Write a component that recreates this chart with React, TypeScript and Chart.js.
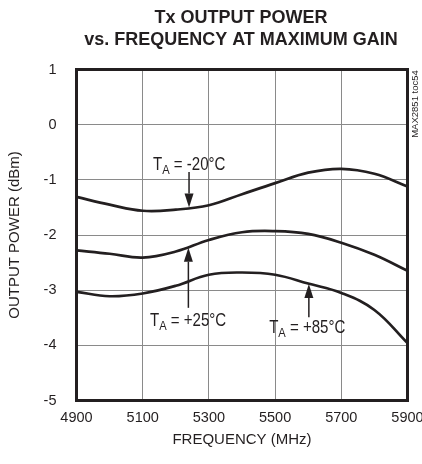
import React, { useEffect, useRef } from "react";
import { Chart, registerables } from "chart.js";

Chart.register(...registerables);

const FONT = '"Liberation Sans", Arial, Helvetica, sans-serif';
const INK = "#231f20";

// Axis ticks
const freqTicks = [4900, 5100, 5300, 5500, 5700, 5900];
const powerTicks = [1, 0, -1, -2, -3, -4, -5];

// T_A = -20°C
const freqM20 = [4900, 5000, 5100, 5200, 5300, 5400, 5500, 5600, 5700, 5800, 5900];
const powM20 = [-1.31, -1.45, -1.56, -1.54, -1.46, -1.26, -1.06, -0.87, -0.8, -0.89, -1.12];

// T_A = +25°C
const freqP25 = [4900, 5000, 5100, 5200, 5300, 5400, 5500, 5600, 5700, 5800, 5900];
const powP25 = [-2.28, -2.34, -2.41, -2.3, -2.09, -1.95, -1.93, -1.98, -2.14, -2.36, -2.65];

// T_A = +85°C
const freqP85 = [4900, 5000, 5100, 5200, 5300, 5400, 5500, 5600, 5700, 5800, 5900];
const powP85 = [-3.03, -3.11, -3.06, -2.92, -2.72, -2.68, -2.72, -2.88, -3.05, -3.36, -3.96];

// Curve labels: [main, subscript, rest]
const labelTexts = [
  ["T", "A", " = -20°C"],
  ["T", "A", " = +25°C"],
  ["T", "A", " = +85°C"],
];
// label anchor (freq, dBm) and arrow (freq, from dBm, to dBm)
const labelAt = [
  [5131, -0.82],
  [5122, -3.65],
  [5482, -3.78],
];
const arrowAt = [
  [5240, -0.86, -1.5],
  [5238, -3.32, -2.23],
  [5602, -3.49, -2.89],
];

const titleLines = ["Tx OUTPUT POWER", "vs. FREQUENCY AT MAXIMUM GAIN"];
const sideNote = "MAX2851 toc54";

function toPoints(xs: number[], ys: number[]) {
  return xs.map((x, i) => ({ x, y: ys[i] }));
}

const decorPlugin = {
  id: "decor",
  beforeDatasetsDraw(chart: any) {
    const { ctx, chartArea } = chart;
    ctx.save();
    ctx.strokeStyle = INK;
    ctx.lineWidth = 3;
    ctx.strokeRect(
      chartArea.left,
      chartArea.top,
      chartArea.right - chartArea.left,
      chartArea.bottom - chartArea.top
    );
    ctx.restore();
  },
  afterDraw(chart: any) {
    const { ctx } = chart;
    const xs = chart.scales.x;
    const ys = chart.scales.y;
    ctx.save();
    // title
    ctx.fillStyle = INK;
    ctx.textAlign = "center";
    ctx.textBaseline = "middle";
    ctx.font = `bold 18px ${FONT}`;
    ctx.fillText(titleLines[0], 241, 18.5);
    ctx.fillText(titleLines[1], 241, 40);

    // side note
    ctx.save();
    ctx.translate(415, 104);
    ctx.rotate(-Math.PI / 2);
    ctx.font = `9.5px ${FONT}`;
    ctx.fillText(sideNote, 0, 0);
    ctx.restore();

    // labels (slightly condensed like the original face)
    ctx.textAlign = "left";
    ctx.textBaseline = "alphabetic";
    const sx = 0.86;
    labelTexts.forEach((parts, i) => {
      const x0 = xs.getPixelForValue(labelAt[i][0]);
      const y = ys.getPixelForValue(labelAt[i][1]);
      ctx.save();
      ctx.translate(x0, y);
      ctx.scale(sx, 1);
      let x = 0;
      ctx.font = `17.5px ${FONT}`;
      ctx.fillText(parts[0], x, 0);
      x += ctx.measureText(parts[0]).width;
      ctx.font = `13px ${FONT}`;
      ctx.fillText(parts[1], x, 4);
      x += ctx.measureText(parts[1]).width;
      ctx.font = `17.5px ${FONT}`;
      ctx.fillText(parts[2], x, 0);
      ctx.restore();
    });

    // arrows
    ctx.strokeStyle = INK;
    ctx.lineWidth = 1.5;
    arrowAt.forEach(([f, v0, v1]) => {
      const x = xs.getPixelForValue(f);
      const y0 = ys.getPixelForValue(v0);
      const y1 = ys.getPixelForValue(v1);
      const dir = y1 > y0 ? 1 : -1;
      const headLen = 14;
      ctx.beginPath();
      ctx.moveTo(x, y0);
      ctx.lineTo(x, y1 - dir * headLen);
      ctx.stroke();
      ctx.beginPath();
      ctx.moveTo(x, y1);
      ctx.lineTo(x - 4.5, y1 - dir * headLen);
      ctx.lineTo(x + 4.5, y1 - dir * headLen);
      ctx.closePath();
      ctx.fill();
    });
    ctx.restore();
  },
};

export default function App() {
  const ref = useRef<HTMLCanvasElement | null>(null);

  useEffect(() => {
    if (!ref.current) return;
    const lineStyle = {
      borderColor: INK,
      borderWidth: 2.7,
      pointRadius: 0,
      tension: 0.4,
      fill: false,
    };
    const chart = new Chart(ref.current, {
      type: "line",
      data: {
        datasets: [
          { label: "-20", data: toPoints(freqM20, powM20), ...lineStyle },
          { label: "+25", data: toPoints(freqP25, powP25), ...lineStyle },
          { label: "+85", data: toPoints(freqP85, powP85), ...lineStyle },
        ],
      },
      options: {
        animation: false,
        responsive: false,
        devicePixelRatio: 1,
        layout: { padding: { top: 69.5, right: 14.5, bottom: 0, left: 0 } },
        plugins: {
          legend: { display: false },
          tooltip: { enabled: false },
          title: { display: false },
        },
        scales: {
          x: {
            type: "linear",
            min: 4900,
            max: 5900,
            afterBuildTicks: (s: any) => {
              s.ticks = freqTicks.map((v) => ({ value: v }));
            },
            ticks: {
              font: { family: FONT, size: 14.5 },
              color: INK,
              padding: 9,
              maxRotation: 0,
              autoSkip: false,
              callback: (v: any) => String(v),
            },
            grid: { color: "#8a8a8a", lineWidth: 1, drawTicks: false },
            border: { display: false },
            title: {
              display: true,
              text: "FREQUENCY (MHz)",
              font: { family: FONT, size: 15 },
              color: INK,
              padding: { top: 15, bottom: 15 },
            },
            afterFit: (s: any) => {
              s.height = 63.5;
              s.paddingLeft = 0;
              s.paddingRight = 0;
            },
          },
          y: {
            type: "linear",
            min: -5,
            max: 1,
            afterBuildTicks: (s: any) => {
              s.ticks = powerTicks.map((v) => ({ value: v }));
            },
            ticks: {
              font: { family: FONT, size: 14.5 },
              color: INK,
              padding: 20,
              autoSkip: false,
              callback: (v: any) => String(v),
            },
            grid: { color: "#8a8a8a", lineWidth: 1, drawTicks: false },
            border: { display: false },
            title: {
              display: true,
              text: "OUTPUT POWER (dBm)",
              font: { family: FONT, size: 15 },
              color: INK,
              padding: { top: 6, bottom: 6 },
            },
            afterFit: (s: any) => {
              s.width = 76.5;
              s.paddingTop = 0;
              s.paddingBottom = 0;
            },
          },
        },
      },
      plugins: [decorPlugin],
    });
    return () => chart.destroy();
  }, []);

  return (
    <div style={{ position: "absolute", left: 0, top: 0, width: 422, height: 464, overflow: "hidden", background: "#fff" }}>
      <canvas ref={ref} width={422} height={464} style={{ display: "block", width: 422, height: 464 }} />
    </div>
  );
}
